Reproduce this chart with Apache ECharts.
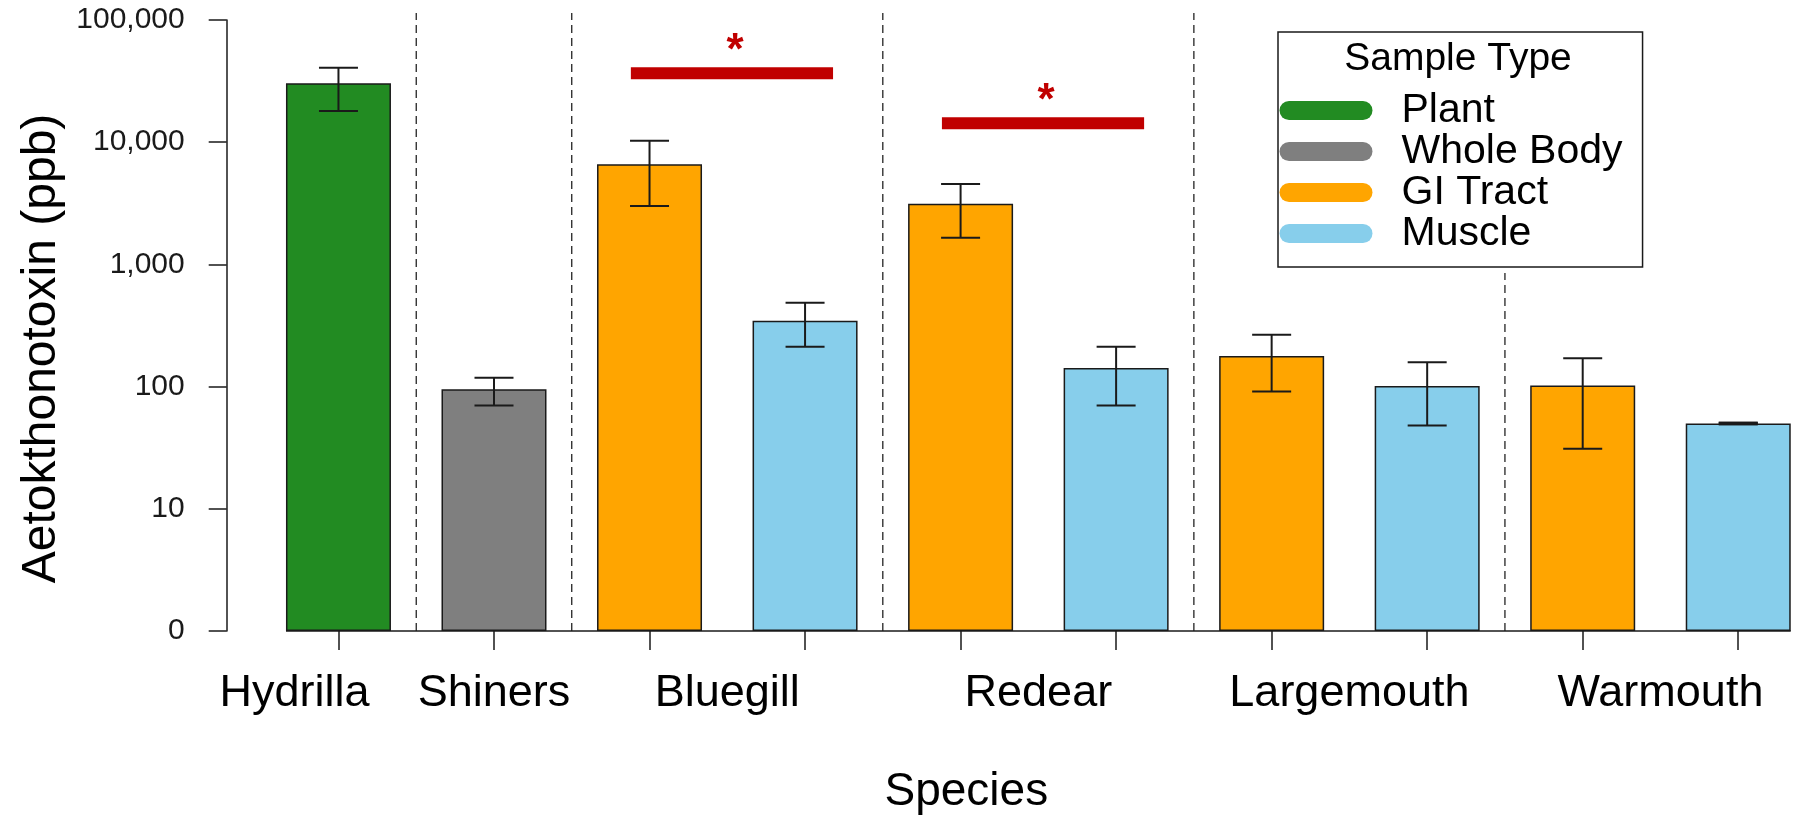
<!DOCTYPE html>
<html>
<head>
<meta charset="utf-8">
<script src="https://cdn.jsdelivr.net/npm/echarts@6/dist/echarts.min.js"></script>
<style>
  html, body { margin: 0; padding: 0; background: #fff; }
  #main { width: 1816px; height: 821px; }
</style>
</head>
<body>
<div id="main"></div>
<script>
// bars, one per category, left to right
const categories = ['Hydrilla', 'Shiners', 'Bluegill GI', 'Bluegill Muscle', 'Redear GI', 'Redear Muscle',
                    'Largemouth GI', 'Largemouth Muscle', 'Warmouth GI', 'Warmouth Muscle'];
const sampleTypeOf = ['Plant', 'Whole Body', 'GI Tract', 'Muscle', 'GI Tract', 'Muscle',
                      'GI Tract', 'Muscle', 'GI Tract', 'Muscle'];
const meanPpb = [30300, 95, 6600, 346, 3140, 142, 178, 101, 102, 50];
const lowPpb  = [18000, 70, 3000, 212, 1655, 70, 91, 48, 31, 50];
const highPpb = [40700, 118, 10300, 486, 4550, 212, 266, 158, 171, 50];

const sampleTypes = ['Plant', 'Whole Body', 'GI Tract', 'Muscle'];
const typeColors = ['#228B22', '#7F7F7F', '#FFA500', '#87CEEB'];

// species groups (index of first / last bar)
const species = ['Hydrilla', 'Shiners', 'Bluegill', 'Redear', 'Largemouth', 'Warmouth'];
const speciesFirst = [0, 1, 2, 4, 6, 8];
const speciesLast  = [0, 1, 3, 5, 7, 9];

// significance bars
const sigFirst = [2, 4];
const sigLast  = [3, 5];
const sigLevel = [36600, 14300];
const sigMark  = ['*', '*'];

const yTicks = [1, 10, 100, 1000, 10000, 100000];

const FONT = "'Liberation Sans', Arial, sans-serif";
const INK = '#1a1a1a';
const BAR_W = 105;
const LEG = { left: 1278, top: 32, right: 1645, bottom: 267 };

const chart = echarts.init(document.getElementById('main'));

const barSeries = sampleTypes.map((t, k) => ({
    name: t,
    type: 'bar',
    barWidth: BAR_W,
    barGap: '-100%',
    itemStyle: { color: typeColors[k], borderColor: INK, borderWidth: 1.5 },
    emphasis: { disabled: true },
    data: categories.map((c, i) => sampleTypeOf[i] === t ? meanPpb[i] : '-')
}));

chart.setOption({
    animation: false,
    grid: { left: 260.7, top: 20, width: 1565, bottom: 190 },
    legend: {
        data: sampleTypes,
        orient: 'vertical',
        left: LEG.left,
        top: LEG.top,
        padding: [58, 20, 13, 1.5],
        itemGap: 0,
        itemWidth: 93,
        itemHeight: 19,
        icon: 'path://M9.5,0H83.5A9.5,9.5,0,0,1,83.5,19H9.5A9.5,9.5,0,0,1,9.5,0Z',
        itemStyle: { borderWidth: 0 },
        textStyle: { fontSize: 41, lineHeight: 39, color: '#000', fontFamily: FONT, padding: [0, 0, 0, 24] },
        backgroundColor: '#fff',
        borderColor: INK,
        borderWidth: 1.5,
        selectedMode: false
    },
    graphic: [{
        type: 'text', x: 1458, y: 59, z: 100,
        style: { text: 'Sample Type', font: '39px ' + FONT, fill: '#000', align: 'center', verticalAlign: 'middle' }
    }],
    xAxis: {
        type: 'category',
        data: categories,
        axisLine: { show: false },
        axisTick: { show: true, interval: 0, alignWithLabel: true, length: 19, lineStyle: { color: INK, width: 1.5 } },
        axisLabel: { show: false, interval: 0 },
        name: 'Species',
        nameLocation: 'middle',
        nameGap: 138,
        nameTextStyle: { fontSize: 46, color: '#000', fontFamily: FONT, padding: [0, 144, 0, 0] }
    },
    yAxis: {
        type: 'log',
        logBase: 10,
        min: yTicks[0],
        max: yTicks[yTicks.length - 1],
        offset: 34,
        axisLine: { show: true, lineStyle: { color: INK, width: 1.5 } },
        axisTick: { show: true, length: 18, lineStyle: { color: INK, width: 1.5 } },
        splitLine: { show: false },
        axisLabel: {
            margin: 42, fontSize: 30, color: INK, fontFamily: FONT,
            formatter: v => {
                const n = Math.round(v);
                return n === 1 ? '0' : n.toLocaleString('en-US');
            }
        },
        name: 'Aetokthonotoxin (ppb)',
        nameLocation: 'middle',
        nameGap: 160,
        nameTextStyle: { fontSize: 48, color: '#000', fontFamily: FONT, padding: [0, 46, 0, 0] }
    },
    series: [
        // dashed separators between species (stop under the legend box)
        {
            type: 'custom', silent: true, clip: false, z: 1,
            encode: { x: 0, y: 1 },
            data: speciesLast.slice(0, -1).map(i => [i, yTicks[0]]),
            renderItem(params, api) {
                const a = api.coord([api.value(0), api.value(1)]);
                const b = api.coord([api.value(0) + 1, api.value(1)]);
                const x = (a[0] + b[0]) / 2;
                const underLegend = x > LEG.left && x < LEG.right;
                const top = underLegend ? LEG.bottom + 6 : params.coordSys.y - 7;
                return {
                    type: 'line',
                    shape: { x1: x, y1: a[1], x2: x, y2: top },
                    style: { stroke: '#111', lineWidth: 1.2, lineDash: [8, 5] }
                };
            }
        },
        ...barSeries,
        // x baseline from first bar edge to last bar edge
        {
            type: 'custom', silent: true, clip: false, z: 3,
            encode: { x: [0, 1], y: 2 },
            data: [[0, categories.length - 1, yTicks[0]]],
            renderItem(params, api) {
                const a = api.coord([api.value(0), api.value(2)]);
                const b = api.coord([api.value(1), api.value(2)]);
                return {
                    type: 'line',
                    shape: { x1: a[0] - BAR_W / 2, y1: a[1], x2: b[0] + BAR_W / 2, y2: b[1] },
                    style: { stroke: INK, lineWidth: 1.5 }
                };
            }
        },
        // error bars
        {
            type: 'custom', silent: true, clip: false, z: 4,
            encode: { x: 0, y: [1, 2] },
            data: categories.map((c, i) => [i, lowPpb[i], highPpb[i]]),
            renderItem(params, api) {
                const lo = api.coord([api.value(0), api.value(1)]);
                const hi = api.coord([api.value(0), api.value(2)]);
                const x = lo[0], h = 19.5;
                const st = { stroke: INK, lineWidth: hi[1] === lo[1] ? 3.5 : 2 };
                return {
                    type: 'group',
                    children: [
                        { type: 'line', shape: { x1: x, y1: lo[1], x2: x, y2: hi[1] }, style: st },
                        { type: 'line', shape: { x1: x - h, y1: lo[1], x2: x + h, y2: lo[1] }, style: st },
                        { type: 'line', shape: { x1: x - h, y1: hi[1], x2: x + h, y2: hi[1] }, style: st }
                    ]
                };
            }
        },
        // significance bars with stars
        {
            type: 'custom', silent: true, clip: false, z: 4,
            encode: { x: [0, 1], y: 2 },
            data: sigFirst.map((f, k) => [f, sigLast[k], sigLevel[k]]),
            renderItem(params, api) {
                const a = api.coord([api.value(0), api.value(2)]);
                const b = api.coord([api.value(1), api.value(2)]);
                const w = (b[0] - a[0]) / (api.value(1) - api.value(0));
                const x1 = a[0] - 0.12 * w, x2 = b[0] + 0.18 * w;
                return {
                    type: 'group',
                    children: [
                        { type: 'line', shape: { x1: x1, y1: a[1], x2: x2, y2: a[1] },
                          style: { stroke: '#C00000', lineWidth: 12 } },
                        { type: 'text',
                          style: { text: sigMark[params.dataIndex], x: (x1 + x2) / 2 + 3, y: a[1] - 21,
                                   font: 'bold 44px ' + FONT, fill: '#C00000', align: 'center', verticalAlign: 'middle' } }
                    ]
                };
            }
        },
        // species labels under the axis
        {
            type: 'custom', silent: true, clip: false, z: 4,
            encode: { x: [0, 1], y: 2 },
            data: species.map((s, k) => [speciesFirst[k], speciesLast[k], yTicks[0]]),
            renderItem(params, api) {
                const a = api.coord([api.value(0), api.value(2)]);
                const b = api.coord([api.value(1), api.value(2)]);
                const dx = params.dataIndex === 0 ? -44 : 0;
                return {
                    type: 'text',
                    style: { text: species[params.dataIndex], x: (a[0] + b[0]) / 2 + dx, y: a[1] + 63,
                             font: '45px ' + FONT, fill: '#000', align: 'center', verticalAlign: 'middle' }
                };
            }
        }
    ]
});
</script>
</body>
</html>
